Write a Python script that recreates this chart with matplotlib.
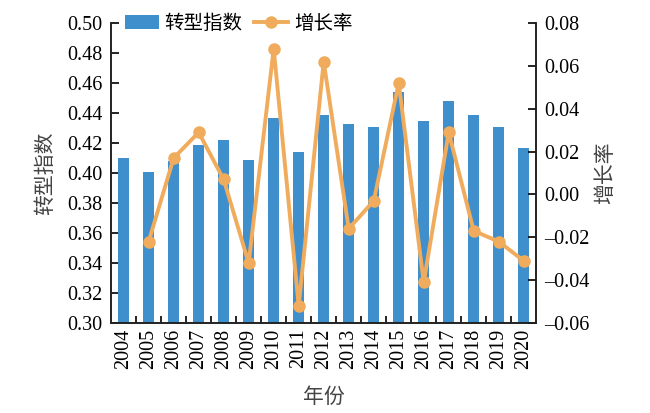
import matplotlib.pyplot as plt
import matplotlib.ticker as ticker
import numpy as np

years = [str(y) for y in range(2004, 2021)]
index_values = [0.410, 0.401, 0.408, 0.419, 0.422, 0.409, 0.437, 0.414, 0.439,
                0.433, 0.431, 0.454, 0.435, 0.448, 0.439, 0.431, 0.417]
growth_years = years[1:]
growth_values = [-0.022, 0.017, 0.029, 0.007, -0.032, 0.068, -0.052, 0.062,
                 -0.016, -0.003, 0.052, -0.041, 0.029, -0.017, -0.022, -0.031]

bar_color = "#3f8fcd"
line_color = "#f0ac5c"
num_font = "Liberation Serif"
cjk_font = ["Noto Sans CJK SC", "DejaVu Sans"]
label_color = "#444444"


def main() -> None:
    plt.rcParams['font.family'] = [num_font] + cjk_font
    fig = plt.figure(figsize=(6.5, 4.13), dpi=100)
    ax1 = fig.add_axes([0.171, 0.218, 0.654, 0.726])
    ax2 = ax1.twinx()

    x = np.arange(len(years))
    bars = ax1.bar(x, index_values, width=0.45, color=bar_color, label="转型指数", zorder=2)
    gx = [years.index(y) for y in growth_years]
    line, = ax2.plot(gx, growth_values, color=line_color, lw=2.8, marker='o',
                     markersize=8, label="增长率", zorder=3)

    ax1.set_xlim(-0.5, len(years) - 0.5)
    ax1.set_ylim(0.30, 0.50)
    ax1.yaxis.set_major_locator(ticker.MultipleLocator(0.02))
    ax1.yaxis.set_major_formatter(ticker.FormatStrFormatter('%.2f'))
    ax2.set_ylim(-0.06, 0.08)
    ax2.yaxis.set_major_locator(ticker.MultipleLocator(0.02))
    ax2.yaxis.set_major_formatter(
        ticker.FuncFormatter(lambda v, p: f"{v:.2f}".replace("-", "\u2013") if abs(v) > 1e-9 else "0.00"))

    ax1.set_xticks(x)
    ax1.set_xticklabels(years, rotation=90, fontsize=14.5, family=num_font)
    ax1.tick_params(axis='x', which='major', length=0, pad=4)
    ax1.set_xticks(x[:-1] + 0.5, minor=True)
    ax1.tick_params(axis='x', which='minor', direction='in', length=5, width=1.2)
    ax1.tick_params(axis='y', direction='in', length=6, width=1.2, labelsize=14.5, pad=6)
    ax2.tick_params(axis='y', direction='in', length=6, width=1.2, labelsize=14.5, pad=6)

    for ax in (ax1, ax2):
        ax.spines['top'].set_visible(False)
        for s in ('left', 'right', 'bottom'):
            ax.spines[s].set_linewidth(1.2)
            ax.spines[s].set_color('#222222')

    ax1.set_xlabel("年份", family=cjk_font, fontsize=15, color=label_color, labelpad=12)
    ax1.set_ylabel("转型指数", family=cjk_font, fontsize=15, color=label_color, labelpad=8)
    ax2.set_ylabel("增长率", family=cjk_font, fontsize=15, color=label_color,
                   rotation=90, labelpad=3)

    ax1.legend([bars, line], ["转型指数", "增长率"], ncol=2, frameon=False,
               loc='center left', bbox_to_anchor=(0.0, 1.0),
               prop={'family': cjk_font, 'size': 14}, handlelength=1.75,
               handletextpad=0.3, columnspacing=0.6, borderaxespad=0.3)

    fig.savefig('out.png', dpi=100)


if __name__ == '__main__':
    main()
